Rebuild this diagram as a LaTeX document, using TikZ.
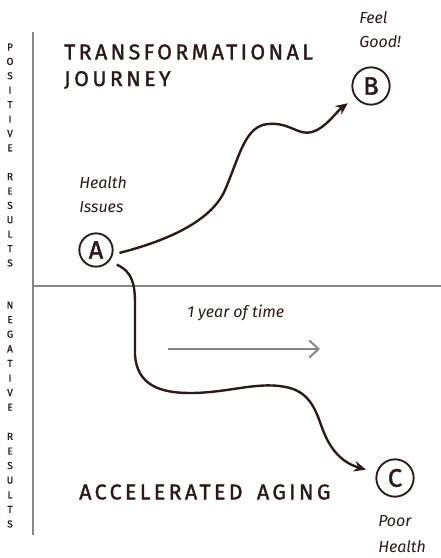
\documentclass[tikz,border=0pt]{standalone}
\usepackage{fontspec}
\setmainfont{Fira Sans}
\newfontfamily\capsfont[LetterSpace=16,FakeBold=1.6]{Fira Sans}
\newfontfamily\thickfont[FakeBold=1.8]{Fira Sans}
\newfontfamily\sidefont[FakeBold=1.2]{Fira Sans}
\usetikzlibrary{arrows.meta}
\definecolor{ink}{HTML}{2B1A1C}
\definecolor{axisgray}{HTML}{8A8585}

\begin{document}
\begin{tikzpicture}[x=0.75pt,y=-0.75pt,
        letter/.style={draw=ink,line width=1.4pt,circle,minimum size=25pt,inner sep=0pt,text=ink,font=\thickfont\fontsize{19}{19}\selectfont},
        hand/.style={text=ink,anchor=west,inner sep=0pt,font=\itshape\fontsize{12}{12}\selectfont},
        title/.style={text=ink,anchor=west,inner sep=0pt,font=\capsfont\fontsize{16}{16}\selectfont},
        side/.style={text=ink,inner sep=0pt,font=\sidefont\fontsize{7.5}{7.5}\selectfont},
        journey/.style={draw=ink,line width=1.8pt,-{Stealth[length=9pt,width=8pt]}}]
                \useasboundingbox (0,0) rectangle (441,558);
                \draw[axisgray,line width=2.2pt] (33,32) -- (33,535);
                \draw[axisgray,line width=2.2pt] (33,286) -- (441,286);
                \foreach \ch [count=\i] in {P,O,S,I,T,I,V,E,,R,E,S,U,L,T,S}
                    \node[side] at (10,{47+14.4*(\i-1)}) {\ch};
                \foreach \ch [count=\i] in {N,E,G,A,T,I,V,E,,R,E,S,U,L,T,S}
                    \node[side] at (10,{305+14.6*(\i-1)}) {\ch};
                \node[title] (top) at (64,52) {TRANSFORMATIONAL};
                \node[title] (top2) at (64,80) {JOURNEY};
                \node[title] (bottom) at (79,492) {ACCELERATED\hspace{4pt} AGING};
                \node[letter] (A) at (96,250) {A};
                \node[letter,minimum height=28pt] (B) at (371,86) {B};
                \node[letter,minimum height=28pt] (C) at (395,478) {C};
                \node[hand] (ha) at (79,183) {Health};
                \node[hand] (hb) at (79,207) {Issues};
                \node[hand] (fa) at (359,18) {Feel};
                \node[hand] (fb) at (359,42) {Good!};
                \node[hand] (pa) at (378,521) {Poor};
                \node[hand] (pb) at (378,547) {Health};
                \node[hand] (time) at (187,313) {1 year of time};
                \coordinate (t0) at (168,349);
                \coordinate (t1) at (320,349);
                \draw[axisgray,line width=1.5pt,-{Straight Barb[length=7pt,width=13pt]}] (t0) -- (t1);
                \draw[journey,shorten <=5pt,shorten >=7pt] (A.-15) .. controls (170,240) and (212,220) .. (225,190)
                    .. controls (240,155) and (245,126) .. (268,124)
                    .. controls (290,122) and (298,136) .. (312,132)
                    .. controls (326,128) and (336,112) .. (B);
                \draw[journey,shorten <=6pt,shorten >=8pt] (A.-40) .. controls (133,272) and (135,285) .. (135,305)
                    -- (135,355)
                    .. controls (137,385) and (160,393) .. (190,393)
                    .. controls (230,393) and (260,380) .. (290,388)
                    .. controls (315,395) and (318,420) .. (325,435)
                    .. controls (335,458) and (350,465) .. (C);
            \end{tikzpicture}
\end{document}
